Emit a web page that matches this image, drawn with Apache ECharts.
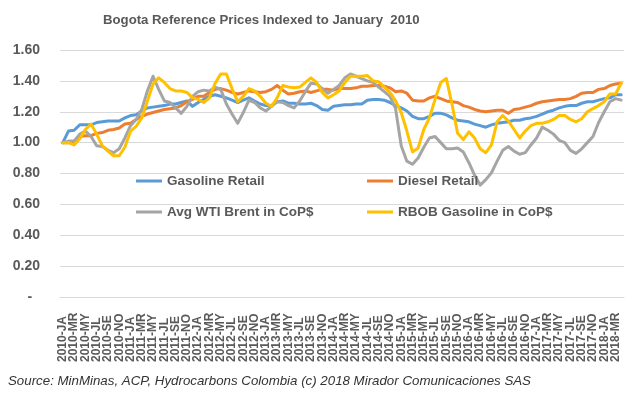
<!DOCTYPE html>
<html><head><meta charset="utf-8">
<script src="https://cdn.jsdelivr.net/npm/echarts@6/dist/echarts.min.js"></script>
<style>html,body{margin:0;padding:0;background:#fff}#c{width:643px;height:398px}</style>
</head><body><div id="c"></div>
<script>
// Categories: monthly, 2010-JA .. 2018-AP (100 months)
const years = [2010, 2011, 2012, 2013, 2014, 2015, 2016, 2017, 2018];
const monthCodes = ['JA','FE','MR','AP','MY','JN','JL','AU','SE','OC','NO','DE'];
const lastYearMonths = 4;

const seriesNames = ['Gasoline Retail', 'Diesel Retail', 'Avg WTI Brent in CoP$', 'RBOB Gasoline in CoP$'];

const gasoline = [
  1.00, 1.075, 1.08, 1.115, 1.115, 1.115, 1.13, 1.135, 1.14, 1.14,
  1.14, 1.16, 1.175, 1.18, 1.205, 1.225, 1.23, 1.235, 1.24, 1.25,
  1.25, 1.26, 1.27, 1.235, 1.26, 1.28, 1.30, 1.31, 1.30, 1.29,
  1.275, 1.26, 1.275, 1.29, 1.27, 1.25, 1.24, 1.24, 1.265, 1.27,
  1.255, 1.255, 1.25, 1.25, 1.255, 1.24, 1.215, 1.21, 1.235, 1.24,
  1.245, 1.245, 1.25, 1.25, 1.275, 1.28, 1.28, 1.275, 1.26, 1.24,
  1.225, 1.205, 1.17, 1.155, 1.155, 1.17, 1.19, 1.19, 1.18, 1.16,
  1.145, 1.14, 1.135, 1.12, 1.11, 1.10, 1.115, 1.125, 1.13, 1.135,
  1.145, 1.145, 1.155, 1.16, 1.17, 1.185, 1.20, 1.21, 1.225, 1.235,
  1.24, 1.24, 1.255, 1.265, 1.265, 1.275, 1.285, 1.29, 1.31, 1.31
];
const diesel = [
  1.00, 1.00, 1.01, 1.04, 1.045, 1.045, 1.06, 1.065, 1.08, 1.085,
  1.095, 1.12, 1.125, 1.15, 1.17, 1.185, 1.195, 1.205, 1.215, 1.22,
  1.225, 1.24, 1.265, 1.28, 1.30, 1.30, 1.325, 1.345, 1.35, 1.34,
  1.325, 1.315, 1.325, 1.335, 1.33, 1.325, 1.33, 1.345, 1.37, 1.34,
  1.315, 1.32, 1.33, 1.335, 1.325, 1.335, 1.345, 1.345, 1.34, 1.35,
  1.35, 1.35, 1.355, 1.365, 1.365, 1.37, 1.37, 1.365, 1.355, 1.33,
  1.335, 1.32, 1.275, 1.27, 1.27, 1.29, 1.30, 1.285, 1.27, 1.265,
  1.26, 1.24, 1.23, 1.215, 1.205, 1.20, 1.205, 1.21, 1.21, 1.19,
  1.215, 1.22, 1.23, 1.24, 1.255, 1.265, 1.27, 1.275, 1.28, 1.28,
  1.285, 1.30, 1.32, 1.325, 1.325, 1.345, 1.35, 1.37, 1.38, 1.385
];
const wtiBrent = [
  1.00, 1.01, 1.01, 1.055, 1.075, 1.04, 0.98, 0.975, 0.95, 0.935,
  0.96, 1.03, 1.11, 1.15, 1.215, 1.335, 1.43, 1.345, 1.27, 1.26,
  1.225, 1.19, 1.235, 1.30, 1.33, 1.34, 1.335, 1.36, 1.345, 1.25,
  1.185, 1.125, 1.195, 1.275, 1.26, 1.225, 1.205, 1.235, 1.265, 1.26,
  1.24, 1.225, 1.27, 1.33, 1.385, 1.38, 1.35, 1.32, 1.345, 1.37,
  1.42, 1.445, 1.43, 1.415, 1.40, 1.39, 1.36, 1.33, 1.30, 1.22,
  0.98, 0.88, 0.86, 0.90, 0.97, 1.03, 1.04, 1.00, 0.96, 0.96,
  0.965, 0.94, 0.87, 0.79, 0.725, 0.76, 0.805, 0.88, 0.95, 0.975,
  0.945, 0.925, 0.935, 0.985, 1.03, 1.10, 1.08, 1.055, 1.015, 1.00,
  0.95, 0.93, 0.96, 1.00, 1.04, 1.13, 1.20, 1.265, 1.285, 1.275
];
const rbob = [
  1.00, 1.00, 0.985, 1.025, 1.085, 1.12, 1.055, 0.98, 0.945, 0.915,
  0.915, 0.97, 1.075, 1.105, 1.16, 1.27, 1.38, 1.42, 1.39, 1.35,
  1.335, 1.335, 1.325, 1.29, 1.28, 1.26, 1.29, 1.385, 1.445, 1.445,
  1.35, 1.265, 1.30, 1.35, 1.335, 1.30, 1.255, 1.235, 1.29, 1.37,
  1.36, 1.355, 1.36, 1.39, 1.42, 1.39, 1.325, 1.29, 1.31, 1.335,
  1.39, 1.43, 1.43, 1.43, 1.435, 1.40, 1.395, 1.36, 1.325, 1.27,
  1.195, 1.075, 0.94, 0.965, 1.085, 1.16, 1.28, 1.39, 1.415, 1.25,
  1.06, 1.02, 1.07, 1.03, 0.96, 0.935, 0.985, 1.135, 1.175, 1.14,
  1.085, 1.03, 1.075, 1.11, 1.125, 1.125, 1.135, 1.15, 1.175, 1.175,
  1.15, 1.135, 1.155, 1.20, 1.22, 1.24, 1.265, 1.315, 1.315, 1.385
];
const colors = ['#5b9bd5', '#ed7d31', '#a5a5a5', '#ffc000'];
const yMin = 0, yMax = 1.6, yStep = 0.2;
const titleText = 'Bogota Reference Prices Indexed to January  2010';
const sourceText = 'Source: MinMinas, ACP, Hydrocarbons Colombia (c) 2018 Mirador Comunicaciones SAS';

const categories = [];
years.forEach((y, yi) => {
  const n = yi === years.length - 1 ? lastYearMonths : 12;
  for (let m = 0; m < n; m++) categories.push(y + '-' + monthCodes[m]);
});

const allData = [gasoline, diesel, wtiBrent, rbob];
const labelFont = 'Liberation Sans, Arial, sans-serif';

const legendPos = [[136, 174], [367, 174], [136, 205], [367, 205]];

const chart = echarts.init(document.getElementById('c'), null, {renderer: 'canvas'});
chart.setOption({
  animation: false,
  backgroundColor: '#ffffff',
  title: [
    {text: titleText, left: 103, top: 14, padding: 0,
     textStyle: {fontFamily: labelFont, fontSize: 13.2, fontWeight: 'bold', color: '#595959'}},
    {text: sourceText, left: 8, top: 375, padding: 0,
     textStyle: {fontFamily: labelFont, fontSize: 13.3, fontStyle: 'italic', fontWeight: 'normal', color: '#333333'}}
  ],
  legend: seriesNames.map((n, i) => ({
    data: [n], left: legendPos[i][0], top: legendPos[i][1], padding: 0,
    icon: 'rect', itemWidth: 26, itemHeight: 3, itemGap: 5,
    textStyle: {fontFamily: labelFont, fontSize: 13.5, fontWeight: 'bold', color: '#595959'}
  })),
  grid: {left: 60, right: 19, top: 50, bottom: 101, containLabel: false},
  xAxis: {
    type: 'category', data: categories, boundaryGap: true,
    axisLine: {lineStyle: {color: '#d9d9d9', width: 1}},
    axisTick: {show: false},
    axisLabel: {interval: 0, rotate: 90, align: 'left', margin: 65,
      showMinLabel: true, showMaxLabel: true,
      formatter: (v, idx) => (idx % 2 === 0 ? v : ''),
      fontFamily: labelFont, fontSize: 12, fontWeight: 'bold', color: '#595959'}
  },
  yAxis: {
    type: 'value', min: yMin, max: yMax, interval: yStep,
    axisLine: {show: false}, axisTick: {show: false},
    splitLine: {lineStyle: {color: '#d9d9d9', width: 1}},
    axisLabel: {margin: 20, fontFamily: labelFont, fontSize: 14, fontWeight: 'bold', color: '#595959',
      formatter: v => (Math.abs(v) < 1e-9 ? '-  ' : v.toFixed(2))}
  },
  series: seriesNames.map((n, i) => ({
    name: n, type: 'line', data: allData[i], symbol: 'none',
    itemStyle: {color: colors[i]},
    lineStyle: {color: colors[i], width: 3, cap: 'round', join: 'round'}
  }))
});
</script>
</body></html>
